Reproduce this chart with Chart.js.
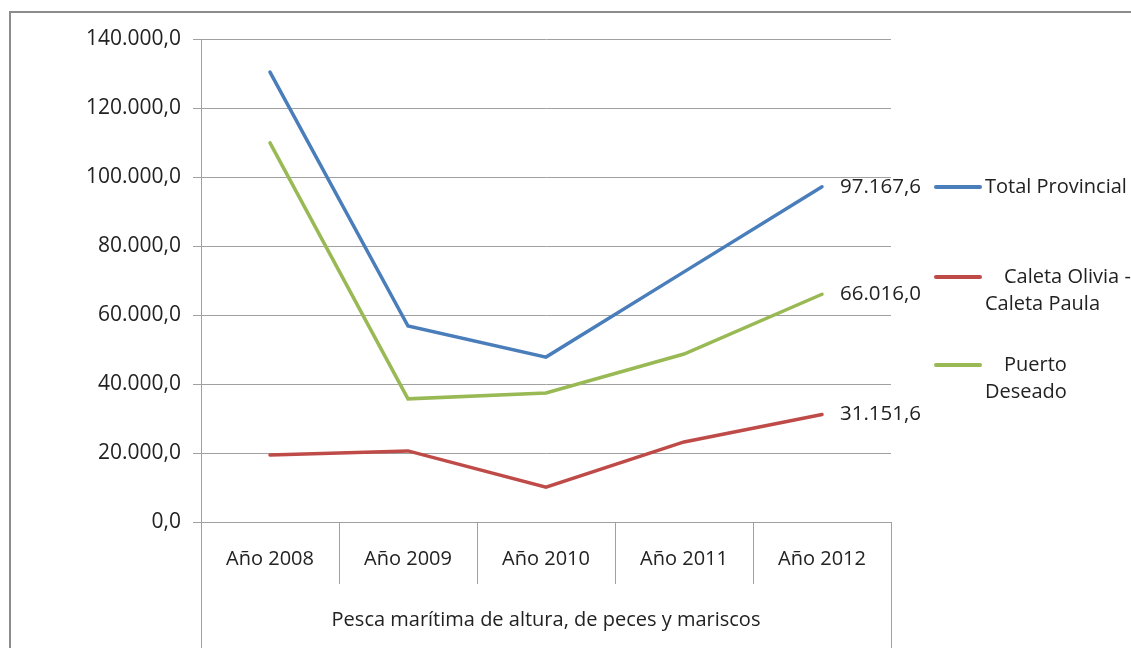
<!DOCTYPE html>
<html lang="es">
<head>
<meta charset="utf-8">
<title>Pesca marítima de altura, de peces y mariscos</title>
<script src="https://cdn.jsdelivr.net/npm/chart.js@4.4.1/dist/chart.umd.min.js"></script>
<style>
  html, body { margin: 0; padding: 0; background: #fff; }
  #wrap { width: 1131px; height: 648px; }
</style>
</head>
<body>
<div id="wrap"><canvas id="lineChart" width="1131" height="648"></canvas></div>
<script>
// Categorías y series (toneladas)
const anios = ['Año 2008', 'Año 2009', 'Año 2010', 'Año 2011', 'Año 2012'];
const grupo = 'Pesca marítima de altura, de peces y mariscos';
const totalProvincial = [130400, 56800, 47800, 72500, 97167.6];
const caletaOlivia = [19400, 20600, 10100, 23200, 31151.6];
const puertoDeseado = [109900, 35700, 37400, 48700, 66016.0];
const ticksY = [0, 20000, 40000, 60000, 80000, 100000, 120000, 140000];

const FUENTE = '"Open Sans", Lato, sans-serif';

// Formato de número estilo es-AR: 97.167,6
function formato(v) {
	return v.toLocaleString('de-DE', { minimumFractionDigits: 1, maximumFractionDigits: 1 });
}

// Marco, divisiones del eje x, rótulos finales y leyenda
const decoracion = {
	id: 'decoracion',
	beforeDraw(chart) {
		const ctx = chart.ctx;
		ctx.save();
		ctx.strokeStyle = '#8c8c8c';
		ctx.lineWidth = 2;
		ctx.beginPath();
		ctx.moveTo(10, 648);
		ctx.lineTo(10, 12);
		ctx.lineTo(1131, 12);
		ctx.stroke();
		ctx.restore();
	},
	afterDraw(chart) {
		const ctx = chart.ctx;
		const area = chart.chartArea;
		const x = chart.scales.x;
		const paso = x.getPixelForValue(1) - x.getPixelForValue(0);
		ctx.save();
		ctx.strokeStyle = '#a0a0a0';
		ctx.lineWidth = 1;
		// divisiones entre años
		for (let i = 0; i <= anios.length; i++) {
			const px = Math.round(x.getPixelForValue(0) - paso / 2 + i * paso) + 0.5;
			const fin = (i === 0 || i === anios.length) ? chart.height : area.bottom + 62;
			ctx.beginPath();
			ctx.moveTo(px, area.bottom);
			ctx.lineTo(px, fin);
			ctx.stroke();
		}
		// rótulo del grupo
		ctx.fillStyle = '#222';
		ctx.font = '20px ' + FUENTE;
		ctx.textAlign = 'center';
		ctx.textBaseline = 'middle';
		ctx.fillText(grupo, (area.left + area.right) / 2, area.bottom + 98);

		// valores del último año
		ctx.font = '20.5px ' + FUENTE;
		ctx.textAlign = 'left';
		chart.data.datasets.forEach((ds, i) => {
			const meta = chart.getDatasetMeta(i);
			const p = meta.data[meta.data.length - 1];
			ctx.fillText(formato(ds.data[ds.data.length - 1]), p.x + 18, p.y);
		});

		// leyenda
		const entradas = [
			{ color: '#4a7ebb', y: 187, lineas: [['Total Provincial', 985]] },
			{ color: '#be4b48', y: 277, lineas: [['Caleta Olivia -', 1004], ['Caleta Paula', 985]] },
			{ color: '#98b954', y: 365, lineas: [['Puerto', 1004], ['Deseado', 985]] }
		];
		ctx.font = '20px ' + FUENTE;
		entradas.forEach(e => {
			ctx.strokeStyle = e.color;
			ctx.lineWidth = 4;
			ctx.lineCap = 'round';
			ctx.beginPath();
			ctx.moveTo(936, e.y);
			ctx.lineTo(980, e.y);
			ctx.stroke();
			e.lineas.forEach((l, j) => {
				ctx.fillText(l[0], l[1], e.y + j * 27);
			});
		});
		ctx.restore();
	}
};

function serie(label, data, color) {
	return {
		label: label,
		data: data,
		borderColor: color,
		backgroundColor: color,
		borderWidth: 3.5,
		borderCapStyle: 'round',
		pointRadius: 0,
		tension: 0,
		fill: false
	};
}

const chart = new Chart(document.getElementById('lineChart').getContext('2d'), {
	type: 'line',
	data: {
		labels: anios,
		datasets: [
			serie('Total Provincial', totalProvincial, '#4a7ebb'),
			serie('Caleta Olivia - Caleta Paula', caletaOlivia, '#be4b48'),
			serie('Puerto Deseado', puertoDeseado, '#98b954')
		]
	},
	options: {
		responsive: false,
		animation: false,
		layout: { padding: { top: 39, right: 240, left: 0, bottom: 0 } },
		plugins: {
			legend: { display: false },
			tooltip: { enabled: false }
		},
		scales: {
			x: {
				offset: true,
				grid: { display: false, drawTicks: false },
				border: { display: true, color: '#a0a0a0', width: 1 },
				ticks: {
					color: '#222',
					font: { family: FUENTE, size: 20 },
					padding: 25
				},
				afterFit(scale) { scale.height = 126; }
			},
			y: {
				min: 0,
				max: 140000,
				afterBuildTicks(scale) {
					scale.ticks = ticksY.map(v => ({ value: v }));
				},
				grid: { color: '#a0a0a0', lineWidth: 1, tickLength: 8 },
				border: { display: true, color: '#a0a0a0', width: 1 },
				ticks: {
					color: '#222',
					font: { family: FUENTE, size: 21 },
					padding: 12,
					callback: v => formato(v)
				},
				afterFit(scale) { scale.width = 201; }
			}
		}
	},
	plugins: [decoracion]
});
</script>
</body>
</html>
